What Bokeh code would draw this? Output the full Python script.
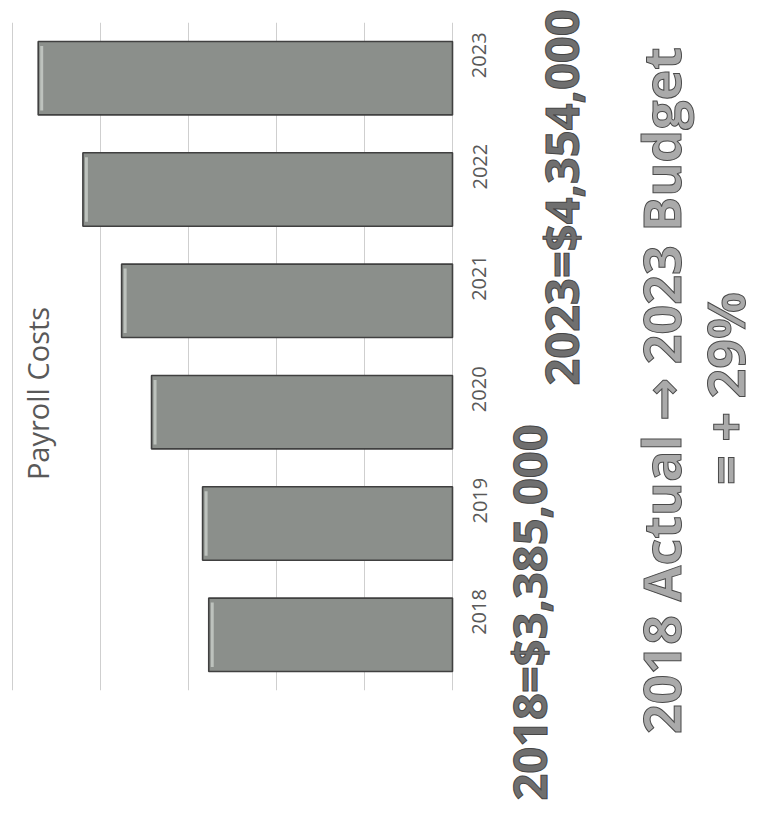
import math
from bokeh.plotting import figure
from bokeh.layouts import row
from bokeh.models import Range1d, FactorRange, SingleIntervalTicker, Label, ColumnDataSource
from bokeh.embed import file_html
from bokeh.resources import INLINE

# ---- data ----
years = ["2018", "2019", "2020", "2021", "2022", "2023"]
payroll = [3385000, 3420000, 3710000, 3880000, 4100000, 4354000]
axis_min = 2000000
axis_max = 4500000
tick_step = 500000

title_text = "Payroll Costs"
note_2018 = "2018=$3,385,000"
note_2023 = "2023=$4,354,000"
headline_1 = "2018 Actual \u2192 2023 Budget"
headline_2 = "= + 29%"

# ---- layout ----
W, H = 759, 820
split_px = 495
frame_left_px, frame_right_px = 0, 460
grid_lo_px, grid_hi_px = 452, 12
top_px, bottom_px = 22, 690
ppu = (grid_lo_px - grid_hi_px) / (axis_max - axis_min)
x_start = axis_max + (grid_hi_px - frame_left_px) / ppu
x_end = axis_min - (frame_right_px - grid_lo_px) / ppu

p = figure(frame_width=frame_right_px - frame_left_px, frame_height=bottom_px - top_px,
           x_range=Range1d(x_start, x_end),
           y_range=FactorRange(factors=years),
           y_axis_location="right",
           output_backend="svg", toolbar_location=None,
           min_border_left=0, min_border_right=split_px - frame_right_px,
           min_border_top=top_px, min_border_bottom=H - bottom_px)
p.outline_line_color = None
p.frame_align = False

t = SingleIntervalTicker(interval=tick_step)
p.xaxis.ticker = t
p.xgrid.ticker = t
p.xaxis.visible = False
p.xgrid.grid_line_color = "#cfcfcf"
p.xgrid.grid_line_width = 1
p.ygrid.visible = False

# bevel highlight near each bar's outer end (a few pixels inside the border)
hi_in = [v - 2 / ppu for v in payroll]
hi_out = [v - 5 / ppu for v in payroll]
src = ColumnDataSource(dict(year=years, value=payroll, base=[axis_min] * len(years),
                            hi_in=hi_in, hi_out=hi_out))
p.hbar(y="year", left="base", right="value", height=0.66, source=src,
       fill_color="#8b8f8b", line_color="#404040", line_width=1.6)
p.hbar(y="year", left="hi_out", right="hi_in", height=0.58, source=src,
       fill_color="#c9cec9", fill_alpha=0.8, line_color=None)

ax = p.yaxis[0]
ax.major_label_orientation = math.pi / 2
ax.axis_line_color = None
ax.major_tick_line_color = None
ax.minor_tick_line_color = None
ax.major_label_standoff = 13
ax.major_label_text_font = "Open Sans"
ax.major_label_text_font_size = "20px"
ax.major_label_text_color = "#595959"

p.add_layout(Label(x=37, y=bottom_px - 393, x_units="screen", y_units="screen",
                   text=title_text, angle=math.pi / 2, text_align="center",
                   text_baseline="middle", text_font="Open Sans",
                   text_font_size="29px", text_color="#595959"))

# right-hand panel holding the large annotations
q = figure(width=W - split_px, height=H,
           x_range=Range1d(split_px, W), y_range=Range1d(H, 0),
           output_backend="svg", toolbar_location=None,
           min_border_left=0, min_border_right=0, min_border_top=0, min_border_bottom=0)
q.axis.visible = False
q.grid.visible = False
q.outline_line_color = None
q.frame_align = False


def add_label(text, cx, cy, size, color, outline, font="Open Sans"):
    q.add_layout(Label(x=cx, y=cy, text=text, angle=math.pi / 2, text_align="center",
                       text_baseline="middle", text_font=font, text_font_size=f"{size}px",
                       text_color=color, text_font_style="bold", text_outline_color=outline))


add_label(note_2018, 527, 612, 47, "#6f6f6f", "#454545")
add_label(note_2023, 559, 197, 47, "#6f6f6f", "#454545")
add_label(headline_1, 659, 390, 52, "#aaaaaa", "#4a4a4a", font="Open Sans, DejaVu Sans")
add_label(headline_2, 723, 388, 52, "#aaaaaa", "#4a4a4a")

layout = row(p, q, spacing=0)
open("out.html", "w").write(file_html(layout, INLINE))
